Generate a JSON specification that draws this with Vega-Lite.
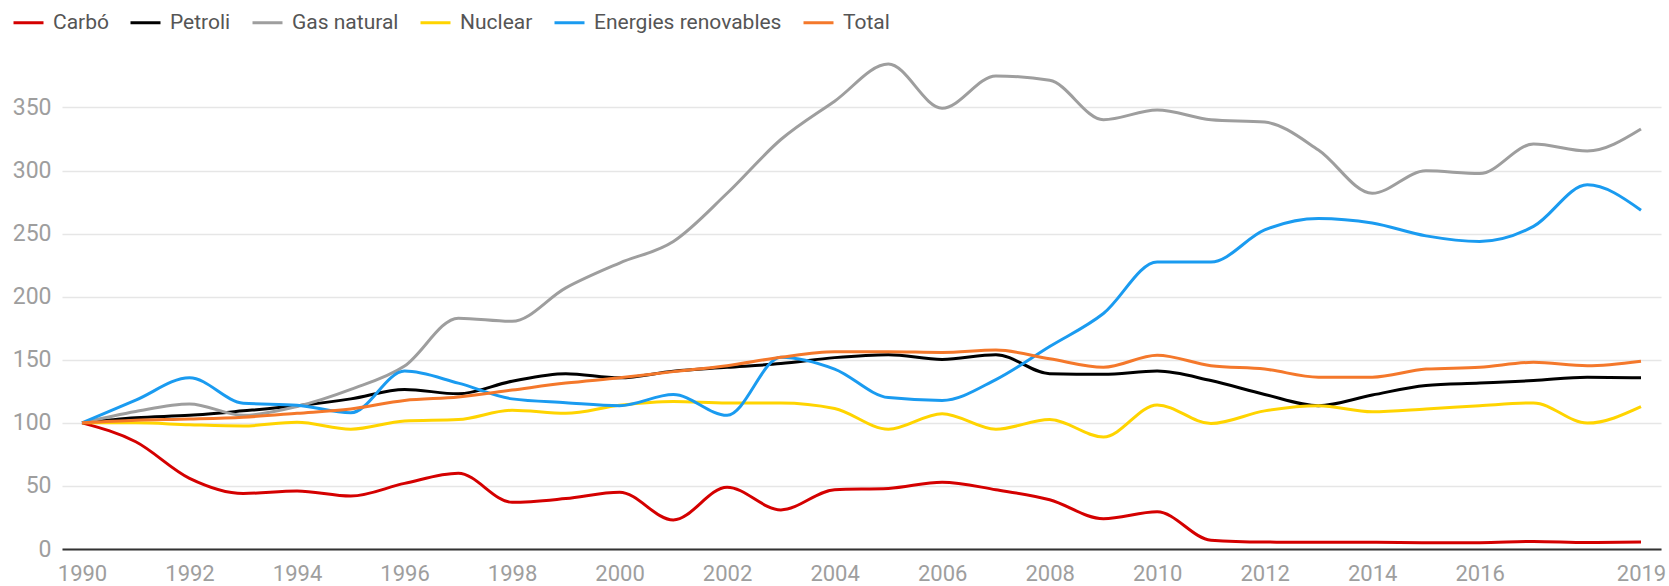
{
  "$schema": "https://vega.github.io/schema/vega-lite/v6.json",
  "width": 1599,
  "height": 492,
  "padding": {"left": 62, "top": 57, "right": 8, "bottom": 37},
  "autosize": {"type": "none"},
  "background": "white",
  "config": {
    "font": "Roboto",
    "view": {"stroke": null}
  },
  "data": {
    "values": [
      {"year": 1990, "series": "Carbó", "value": 100},
      {"year": 1991, "series": "Carbó", "value": 85},
      {"year": 1992, "series": "Carbó", "value": 56},
      {"year": 1993, "series": "Carbó", "value": 44},
      {"year": 1994, "series": "Carbó", "value": 46},
      {"year": 1995, "series": "Carbó", "value": 42},
      {"year": 1996, "series": "Carbó", "value": 52},
      {"year": 1997, "series": "Carbó", "value": 60},
      {"year": 1998, "series": "Carbó", "value": 37},
      {"year": 1999, "series": "Carbó", "value": 40},
      {"year": 2000, "series": "Carbó", "value": 45},
      {"year": 2001, "series": "Carbó", "value": 23},
      {"year": 2002, "series": "Carbó", "value": 49},
      {"year": 2003, "series": "Carbó", "value": 31},
      {"year": 2004, "series": "Carbó", "value": 47},
      {"year": 2005, "series": "Carbó", "value": 48},
      {"year": 2006, "series": "Carbó", "value": 53},
      {"year": 2007, "series": "Carbó", "value": 47},
      {"year": 2008, "series": "Carbó", "value": 39},
      {"year": 2009, "series": "Carbó", "value": 24},
      {"year": 2010, "series": "Carbó", "value": 29.5},
      {"year": 2011, "series": "Carbó", "value": 7},
      {"year": 2012, "series": "Carbó", "value": 5.5},
      {"year": 2013, "series": "Carbó", "value": 5.3},
      {"year": 2014, "series": "Carbó", "value": 5.3},
      {"year": 2015, "series": "Carbó", "value": 5},
      {"year": 2016, "series": "Carbó", "value": 5},
      {"year": 2017, "series": "Carbó", "value": 6},
      {"year": 2018, "series": "Carbó", "value": 5.2},
      {"year": 2019, "series": "Carbó", "value": 5.5},

      {"year": 1990, "series": "Petroli", "value": 100},
      {"year": 1991, "series": "Petroli", "value": 104},
      {"year": 1992, "series": "Petroli", "value": 106},
      {"year": 1993, "series": "Petroli", "value": 109.5},
      {"year": 1994, "series": "Petroli", "value": 113.5},
      {"year": 1995, "series": "Petroli", "value": 119},
      {"year": 1996, "series": "Petroli", "value": 126.5},
      {"year": 1997, "series": "Petroli", "value": 123},
      {"year": 1998, "series": "Petroli", "value": 133},
      {"year": 1999, "series": "Petroli", "value": 139},
      {"year": 2000, "series": "Petroli", "value": 135.7},
      {"year": 2001, "series": "Petroli", "value": 141},
      {"year": 2002, "series": "Petroli", "value": 144},
      {"year": 2003, "series": "Petroli", "value": 147},
      {"year": 2004, "series": "Petroli", "value": 151.7},
      {"year": 2005, "series": "Petroli", "value": 154},
      {"year": 2006, "series": "Petroli", "value": 150.3},
      {"year": 2007, "series": "Petroli", "value": 154},
      {"year": 2008, "series": "Petroli", "value": 139},
      {"year": 2009, "series": "Petroli", "value": 138.5},
      {"year": 2010, "series": "Petroli", "value": 141},
      {"year": 2011, "series": "Petroli", "value": 133.5},
      {"year": 2012, "series": "Petroli", "value": 122.5},
      {"year": 2013, "series": "Petroli", "value": 113.6},
      {"year": 2014, "series": "Petroli", "value": 122},
      {"year": 2015, "series": "Petroli", "value": 129.6},
      {"year": 2016, "series": "Petroli", "value": 131.5},
      {"year": 2017, "series": "Petroli", "value": 133.5},
      {"year": 2018, "series": "Petroli", "value": 136.2},
      {"year": 2019, "series": "Petroli", "value": 135.7},

      {"year": 1990, "series": "Gas natural", "value": 100},
      {"year": 1991, "series": "Gas natural", "value": 109},
      {"year": 1992, "series": "Gas natural", "value": 115},
      {"year": 1993, "series": "Gas natural", "value": 106},
      {"year": 1994, "series": "Gas natural", "value": 113},
      {"year": 1995, "series": "Gas natural", "value": 126.5},
      {"year": 1996, "series": "Gas natural", "value": 145},
      {"year": 1997, "series": "Gas natural", "value": 183},
      {"year": 1998, "series": "Gas natural", "value": 180.5},
      {"year": 1999, "series": "Gas natural", "value": 207},
      {"year": 2000, "series": "Gas natural", "value": 226.7},
      {"year": 2001, "series": "Gas natural", "value": 243.8},
      {"year": 2002, "series": "Gas natural", "value": 282},
      {"year": 2003, "series": "Gas natural", "value": 324.6},
      {"year": 2004, "series": "Gas natural", "value": 355},
      {"year": 2005, "series": "Gas natural", "value": 384.4},
      {"year": 2006, "series": "Gas natural", "value": 349.4},
      {"year": 2007, "series": "Gas natural", "value": 375},
      {"year": 2008, "series": "Gas natural", "value": 371.5},
      {"year": 2009, "series": "Gas natural", "value": 340.3},
      {"year": 2010, "series": "Gas natural", "value": 348},
      {"year": 2011, "series": "Gas natural", "value": 340.3},
      {"year": 2012, "series": "Gas natural", "value": 338.4},
      {"year": 2013, "series": "Gas natural", "value": 316.3},
      {"year": 2014, "series": "Gas natural", "value": 282},
      {"year": 2015, "series": "Gas natural", "value": 299.8},
      {"year": 2016, "series": "Gas natural", "value": 297.6},
      {"year": 2017, "series": "Gas natural", "value": 321},
      {"year": 2018, "series": "Gas natural", "value": 315.5},
      {"year": 2019, "series": "Gas natural", "value": 332.9},

      {"year": 1990, "series": "Nuclear", "value": 100},
      {"year": 1991, "series": "Nuclear", "value": 100},
      {"year": 1992, "series": "Nuclear", "value": 98.5},
      {"year": 1993, "series": "Nuclear", "value": 97.5},
      {"year": 1994, "series": "Nuclear", "value": 100.5},
      {"year": 1995, "series": "Nuclear", "value": 95},
      {"year": 1996, "series": "Nuclear", "value": 101.5},
      {"year": 1997, "series": "Nuclear", "value": 102.6},
      {"year": 1998, "series": "Nuclear", "value": 110},
      {"year": 1999, "series": "Nuclear", "value": 107.6},
      {"year": 2000, "series": "Nuclear", "value": 114},
      {"year": 2001, "series": "Nuclear", "value": 117},
      {"year": 2002, "series": "Nuclear", "value": 115.8},
      {"year": 2003, "series": "Nuclear", "value": 115.8},
      {"year": 2004, "series": "Nuclear", "value": 111.4},
      {"year": 2005, "series": "Nuclear", "value": 95},
      {"year": 2006, "series": "Nuclear", "value": 107.3},
      {"year": 2007, "series": "Nuclear", "value": 95},
      {"year": 2008, "series": "Nuclear", "value": 102.6},
      {"year": 2009, "series": "Nuclear", "value": 88.8},
      {"year": 2010, "series": "Nuclear", "value": 114.2},
      {"year": 2011, "series": "Nuclear", "value": 99.5},
      {"year": 2012, "series": "Nuclear", "value": 109.5},
      {"year": 2013, "series": "Nuclear", "value": 113.6},
      {"year": 2014, "series": "Nuclear", "value": 108.7},
      {"year": 2015, "series": "Nuclear", "value": 110.9},
      {"year": 2016, "series": "Nuclear", "value": 113.6},
      {"year": 2017, "series": "Nuclear", "value": 115.8},
      {"year": 2018, "series": "Nuclear", "value": 99.8},
      {"year": 2019, "series": "Nuclear", "value": 112.8},

      {"year": 1990, "series": "Energies renovables", "value": 100},
      {"year": 1991, "series": "Energies renovables", "value": 118},
      {"year": 1992, "series": "Energies renovables", "value": 135.7},
      {"year": 1993, "series": "Energies renovables", "value": 115.6},
      {"year": 1994, "series": "Energies renovables", "value": 114},
      {"year": 1995, "series": "Energies renovables", "value": 108},
      {"year": 1996, "series": "Energies renovables", "value": 141},
      {"year": 1997, "series": "Energies renovables", "value": 131.5},
      {"year": 1998, "series": "Energies renovables", "value": 119},
      {"year": 1999, "series": "Energies renovables", "value": 116},
      {"year": 2000, "series": "Energies renovables", "value": 113.6},
      {"year": 2001, "series": "Energies renovables", "value": 122.4},
      {"year": 2002, "series": "Energies renovables", "value": 106},
      {"year": 2003, "series": "Energies renovables", "value": 152},
      {"year": 2004, "series": "Energies renovables", "value": 142.6},
      {"year": 2005, "series": "Energies renovables", "value": 120},
      {"year": 2006, "series": "Energies renovables", "value": 117.8},
      {"year": 2007, "series": "Energies renovables", "value": 134.3},
      {"year": 2008, "series": "Energies renovables", "value": 160.5},
      {"year": 2009, "series": "Energies renovables", "value": 186.7},
      {"year": 2010, "series": "Energies renovables", "value": 227.5},
      {"year": 2011, "series": "Energies renovables", "value": 227.5},
      {"year": 2012, "series": "Energies renovables", "value": 252.9},
      {"year": 2013, "series": "Energies renovables", "value": 262},
      {"year": 2014, "series": "Energies renovables", "value": 258.4},
      {"year": 2015, "series": "Energies renovables", "value": 248.2},
      {"year": 2016, "series": "Energies renovables", "value": 243.8},
      {"year": 2017, "series": "Energies renovables", "value": 255.7},
      {"year": 2018, "series": "Energies renovables", "value": 288.7},
      {"year": 2019, "series": "Energies renovables", "value": 268.6},

      {"year": 1990, "series": "Total", "value": 100},
      {"year": 1991, "series": "Total", "value": 102},
      {"year": 1992, "series": "Total", "value": 103},
      {"year": 1993, "series": "Total", "value": 104.5},
      {"year": 1994, "series": "Total", "value": 107.6},
      {"year": 1995, "series": "Total", "value": 111},
      {"year": 1996, "series": "Total", "value": 117.8},
      {"year": 1997, "series": "Total", "value": 120.5},
      {"year": 1998, "series": "Total", "value": 126},
      {"year": 1999, "series": "Total", "value": 131.5},
      {"year": 2000, "series": "Total", "value": 135.7},
      {"year": 2001, "series": "Total", "value": 140.6},
      {"year": 2002, "series": "Total", "value": 145.3},
      {"year": 2003, "series": "Total", "value": 152},
      {"year": 2004, "series": "Total", "value": 156.4},
      {"year": 2005, "series": "Total", "value": 156.4},
      {"year": 2006, "series": "Total", "value": 155.8},
      {"year": 2007, "series": "Total", "value": 157.7},
      {"year": 2008, "series": "Total", "value": 150.8},
      {"year": 2009, "series": "Total", "value": 144},
      {"year": 2010, "series": "Total", "value": 153.6},
      {"year": 2011, "series": "Total", "value": 145.3},
      {"year": 2012, "series": "Total", "value": 142.6},
      {"year": 2013, "series": "Total", "value": 136.2},
      {"year": 2014, "series": "Total", "value": 136.2},
      {"year": 2015, "series": "Total", "value": 142.6},
      {"year": 2016, "series": "Total", "value": 144},
      {"year": 2017, "series": "Total", "value": 148},
      {"year": 2018, "series": "Total", "value": 145.3},
      {"year": 2019, "series": "Total", "value": 148.9}
    ]
  },
  "mark": {"type": "line", "interpolate": "monotone", "strokeWidth": 3, "clip": false},
  "encoding": {
    "x": {
      "field": "year",
      "type": "quantitative",
      "scale": {"domain": [1989.628, 2019.372], "nice": false, "zero": false},
      "axis": {
        "title": null,
        "values": [1990, 1992, 1994, 1996, 1998, 2000, 2002, 2004, 2006, 2008, 2010, 2012, 2014, 2016, 2019],
        "format": "d",
        "grid": false,
        "ticks": false,
        "domain": true,
        "domainColor": "#333333",
        "domainWidth": 2,
        "labelFont": "Roboto",
        "labelFontSize": 22,
        "labelColor": "#9e9e9e",
        "labelPadding": 14,
        "labelFlush": false,
        "labelOverlap": false
      }
    },
    "y": {
      "field": "value",
      "type": "quantitative",
      "scale": {"domain": [0, 390], "nice": false},
      "axis": {
        "title": null,
        "values": [0, 50, 100, 150, 200, 250, 300, 350],
        "grid": true,
        "gridColor": "#e6e6e6",
        "gridWidth": 1.5,
        "ticks": false,
        "domain": false,
        "labelFont": "Roboto",
        "labelFontSize": 23,
        "labelColor": "#9e9e9e",
        "labelPadding": 11
      }
    },
    "color": {
      "field": "series",
      "type": "nominal",
      "sort": ["Carbó", "Petroli", "Gas natural", "Nuclear", "Energies renovables", "Total"],
      "scale": {
        "domain": ["Carbó", "Petroli", "Gas natural", "Nuclear", "Energies renovables", "Total"],
        "range": ["#d40000", "#000000", "#9e9e9e", "#ffd400", "#1a9bf0", "#f4782b"]
      },
      "legend": {
        "title": null,
        "orient": "none",
        "legendX": -50,
        "legendY": -51,
        "direction": "horizontal",
        "padding": 0,
        "symbolType": "stroke",
        "symbolSize": 900,
        "symbolStrokeWidth": 3,
        "labelFont": "Roboto",
        "labelFontSize": 21,
        "labelColor": "#555555",
        "labelOffset": 8,
        "columnPadding": 15,
        "labelLimit": 400
      }
    }
  }
}
